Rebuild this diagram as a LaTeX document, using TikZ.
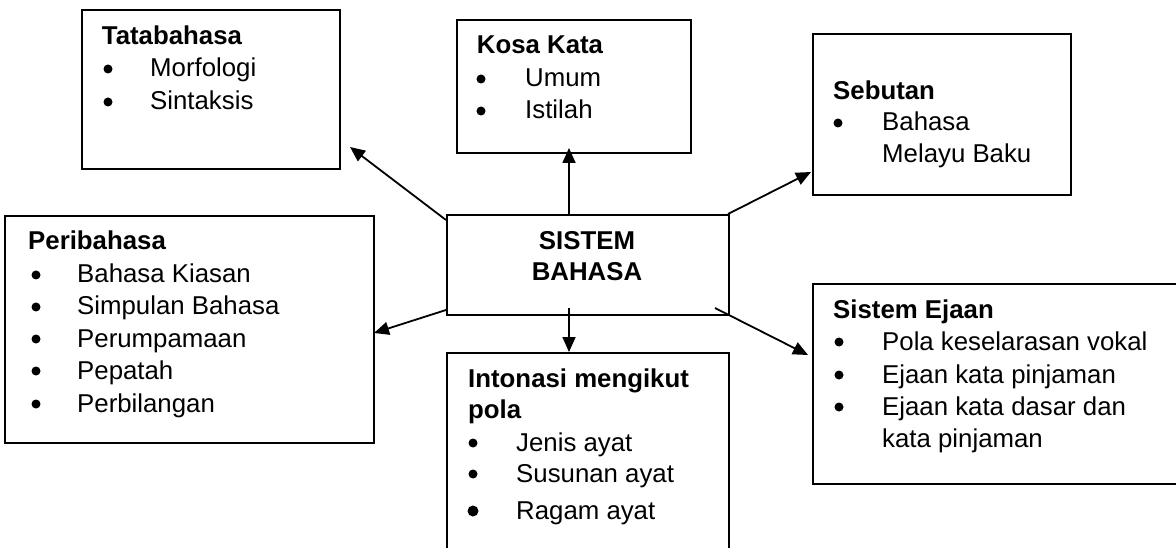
\documentclass[tikz,border=0pt]{standalone}
\usepackage{fontspec}
\setmainfont{Liberation Sans}
\usetikzlibrary{arrows.meta}
\begin{document}
\begin{tikzpicture}[x=1pt,y=-1pt,
  box/.style={draw,line width=2pt,inner sep=0pt,anchor=north west},
  arr/.style={line width=1.8pt,-{Triangle[length=15pt,width=13pt]}},
  ttl/.style={anchor=base west,inner sep=0pt,font=\fontsize{25.8}{32}\selectfont\bfseries},
  ctr/.style={anchor=base,inner sep=0pt,font=\fontsize{25.8}{32}\selectfont\bfseries},
  itm/.style={anchor=base west,inner sep=0pt,font=\fontsize{25.8}{32}\selectfont},
  bul/.style={fill,circle,inner sep=0pt,minimum size=9pt}]
\clip (0,0) rectangle (1176,548);
\fill[white] (0,0) rectangle (1176,548);
% boxes
\node[box,minimum width=258,minimum height=159] (tata) at (81,9) {};
\node[box,minimum width=234,minimum height=133] (kosa) at (456,19) {};
\node[box,minimum width=258,minimum height=161] (sebut) at (812,33) {};
\node[box,minimum width=282,minimum height=100] (center) at (446,214) {};
\node[box,minimum width=369,minimum height=227] (peri) at (4,215) {};
\node[box,minimum width=380,minimum height=200] (ejaan) at (812,283) {};
\node[box,minimum width=282,minimum height=220] (inton) at (446,352) {};
% Tatabahasa
\node[ttl] (tataT) at (101.7,45) {Tatabahasa};
\node[bul] (tataB1) at (108,69) {};
\node[itm] (tataI1) at (150,77) {Morfologi};
\node[bul] (tataB2) at (108,102) {};
\node[itm] (tataI2) at (150,110) {Sintaksis};
% Kosa Kata
\node[ttl] (kosaT) at (476.7,54) {Kosa Kata};
\node[bul] (kosaB1) at (481,79) {};
\node[itm] (kosaI1) at (525,87) {Umum};
\node[bul] (kosaB2) at (481,111) {};
\node[itm] (kosaI2) at (525,119) {Istilah};
% Sebutan
\node[ttl] (sebutT) at (833,100) {Sebutan};
\node[bul] (sebutB1) at (838,123) {};
\node[itm] (sebutI1) at (882,131) {Bahasa};
\node[itm] (sebutI2) at (882,163) {Melayu Baku};
% Center
\node[ctr] (cT1) at (587,250) {SISTEM};
\node[ctr] (cT2) at (587,281) {BAHASA};
% Peribahasa
\node[ttl] (periT) at (28,250) {Peribahasa};
\node[bul] (periB1) at (36,275) {};
\node[itm] (periI1) at (77,283) {Bahasa Kiasan};
\node[bul] (periB2) at (36,307) {};
\node[itm] (periI2) at (77,315) {Simpulan Bahasa};
\node[bul] (periB3) at (36,339) {};
\node[itm] (periI3) at (77,347) {Perumpamaan};
\node[bul] (periB4) at (36,371) {};
\node[itm] (periI4) at (77,379) {Pepatah};
\node[bul] (periB5) at (36,404) {};
\node[itm] (periI5) at (77,412) {Perbilangan};
% Sistem Ejaan
\node[ttl] (ejaanT) at (833,319) {Sistem Ejaan};
\node[bul] (ejaanB1) at (839,342) {};
\node[itm] (ejaanI1) at (882,350) {Pola keselarasan vokal};
\node[bul] (ejaanB2) at (839,375) {};
\node[itm] (ejaanI2) at (882,383) {Ejaan kata pinjaman};
\node[bul] (ejaanB3) at (839,407) {};
\node[itm] (ejaanI3) at (882,415) {Ejaan kata dasar dan};
\node[itm] (ejaanI4) at (882,447) {kata pinjaman};
% Intonasi
\node[ttl] (intonT1) at (468,387) {Intonasi mengikut};
\node[ttl] (intonT2) at (468,418) {pola};
\node[bul] (intonB1) at (473,443) {};
\node[itm] (intonI1) at (516,451) {Jenis ayat};
\node[bul] (intonB2) at (473,474) {};
\node[itm] (intonI2) at (516,482) {Susunan ayat};
\node[bul,minimum size=11pt] (intonB3) at (473,511) {};
\node[itm] (intonI3) at (516,519) {Ragam ayat};
% connector endpoints
\coordinate (sUL) at (446,220);
\coordinate (eUL) at (350,147);
\coordinate (sUp) at (569,214);
\coordinate (eUp) at (569,148);
\coordinate (sUR) at (728,214);
\coordinate (eUR) at (811,172);
\coordinate (sLL) at (446,310);
\coordinate (eLL) at (374,333);
\coordinate (sDn) at (569,308);
\coordinate (eDn) at (569,352);
\coordinate (sLR) at (715,308);
\coordinate (eLR) at (808,355);
\draw[arr] (sUL) -- (eUL);
\draw[arr] (sUp) -- (eUp);
\draw[arr] (sUR) -- (eUR);
\draw[arr] (sLL) -- (eLL);
\draw[arr] (sDn) -- (eDn);
\draw[arr] (sLR) -- (eLR);
\end{tikzpicture}
\end{document}
